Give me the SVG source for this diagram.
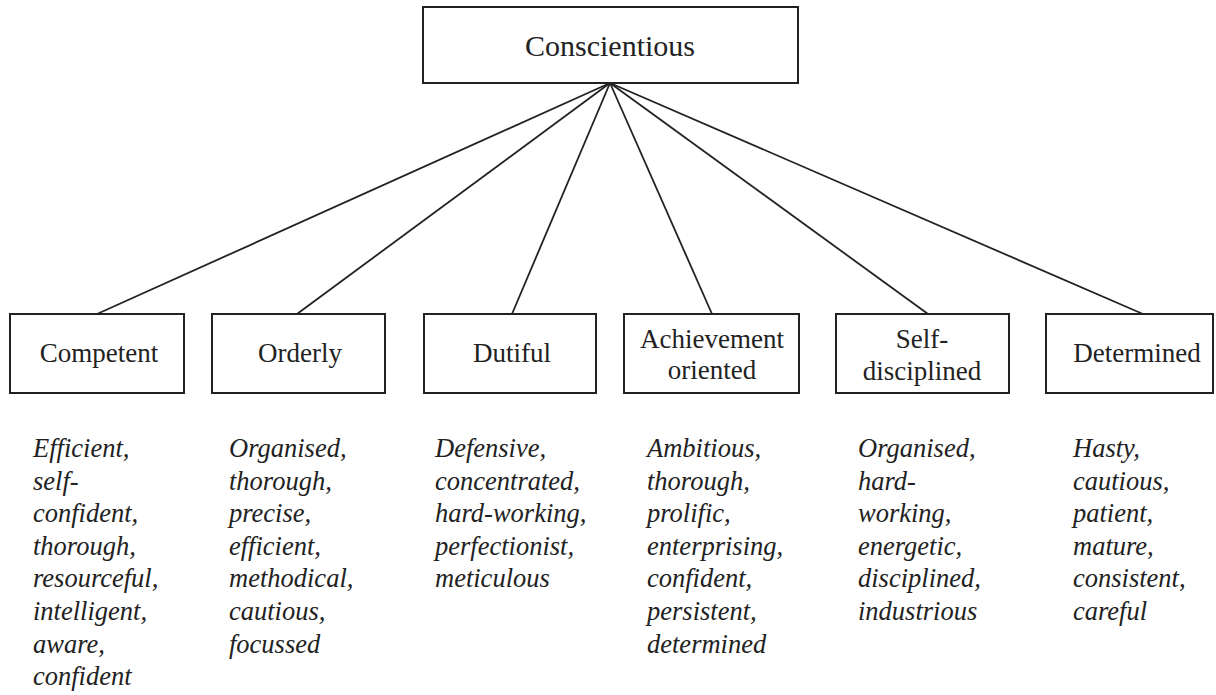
<svg xmlns="http://www.w3.org/2000/svg" width="1216" height="695" viewBox="0 0 1216 695">
<style>
.box{fill:#fff;stroke:#222;stroke-width:2}
.lbl{font-family:'Liberation Serif','Times New Roman',Tinos,'DejaVu Serif',serif;font-size:27px;fill:#222;text-anchor:middle}
.top{font-size:30px}
.lst{font-family:'Liberation Serif','Times New Roman',Tinos,'DejaVu Serif',serif;font-size:26.5px;font-style:italic;fill:#222}
.con line{stroke:#222;stroke-width:1.8}
</style>
<rect width="1216" height="695" fill="#fff"/>
<g class="con">
<line x1="610" y1="83" x2="97" y2="314"/>
<line x1="610" y1="83" x2="297" y2="314"/>
<line x1="610" y1="83" x2="512" y2="314"/>
<line x1="610" y1="83" x2="712" y2="314"/>
<line x1="610" y1="83" x2="928" y2="314"/>
<line x1="610" y1="83" x2="1143" y2="314"/>
</g>
<g id="conscientious">
<rect class="box" x="423" y="7" width="375" height="76"/>
<text class="lbl top" x="610" y="56">Conscientious</text>
</g>
<g id="competent">
<rect class="box" x="10" y="314" width="174" height="79"/>
<text class="lbl" x="99" y="362">Competent</text>
</g>
<g id="orderly">
<rect class="box" x="212" y="314" width="173" height="79"/>
<text class="lbl" x="300" y="362">Orderly</text>
</g>
<g id="dutiful">
<rect class="box" x="424" y="314" width="172" height="79"/>
<text class="lbl" x="512" y="362">Dutiful</text>
</g>
<g id="achievement">
<rect class="box" x="624" y="314" width="175" height="79"/>
<text class="lbl" x="712" y="348">Achievement</text>
<text class="lbl" x="712" y="379">oriented</text>
</g>
<g id="selfdisciplined">
<rect class="box" x="836" y="314" width="173" height="79"/>
<text class="lbl" x="922" y="348">Self-</text>
<text class="lbl" x="922" y="380">disciplined</text>
</g>
<g id="determined">
<rect class="box" x="1046" y="314" width="167" height="79"/>
<text class="lbl" x="1137" y="362">Determined</text>
</g>
<g id="list-competent">
<text class="lst" x="33" y="457">Efficient,</text>
<text class="lst" x="33" y="489.6">self-</text>
<text class="lst" x="33" y="522.2">confident,</text>
<text class="lst" x="33" y="554.8">thorough,</text>
<text class="lst" x="33" y="587.4">resourceful,</text>
<text class="lst" x="33" y="620">intelligent,</text>
<text class="lst" x="33" y="652.6">aware,</text>
<text class="lst" x="33" y="685.2">confident</text>
</g>
<g id="list-orderly">
<text class="lst" x="229" y="457">Organised,</text>
<text class="lst" x="229" y="489.6">thorough,</text>
<text class="lst" x="229" y="522.2">precise,</text>
<text class="lst" x="229" y="554.8">efficient,</text>
<text class="lst" x="229" y="587.4">methodical,</text>
<text class="lst" x="229" y="620">cautious,</text>
<text class="lst" x="229" y="652.6">focussed</text>
</g>
<g id="list-dutiful">
<text class="lst" x="435" y="457">Defensive,</text>
<text class="lst" x="435" y="489.6">concentrated,</text>
<text class="lst" x="435" y="522.2">hard-working,</text>
<text class="lst" x="435" y="554.8">perfectionist,</text>
<text class="lst" x="435" y="587.4">meticulous</text>
</g>
<g id="list-achievement">
<text class="lst" x="647" y="457">Ambitious,</text>
<text class="lst" x="647" y="489.6">thorough,</text>
<text class="lst" x="647" y="522.2">prolific,</text>
<text class="lst" x="647" y="554.8">enterprising,</text>
<text class="lst" x="647" y="587.4">confident,</text>
<text class="lst" x="647" y="620">persistent,</text>
<text class="lst" x="647" y="652.6">determined</text>
</g>
<g id="list-selfdisciplined">
<text class="lst" x="858" y="457">Organised,</text>
<text class="lst" x="858" y="489.6">hard-</text>
<text class="lst" x="858" y="522.2">working,</text>
<text class="lst" x="858" y="554.8">energetic,</text>
<text class="lst" x="858" y="587.4">disciplined,</text>
<text class="lst" x="858" y="620">industrious</text>
</g>
<g id="list-determined">
<text class="lst" x="1073" y="457">Hasty,</text>
<text class="lst" x="1073" y="489.6">cautious,</text>
<text class="lst" x="1073" y="522.2">patient,</text>
<text class="lst" x="1073" y="554.8">mature,</text>
<text class="lst" x="1073" y="587.4">consistent,</text>
<text class="lst" x="1073" y="620">careful</text>
</g>
</svg>
